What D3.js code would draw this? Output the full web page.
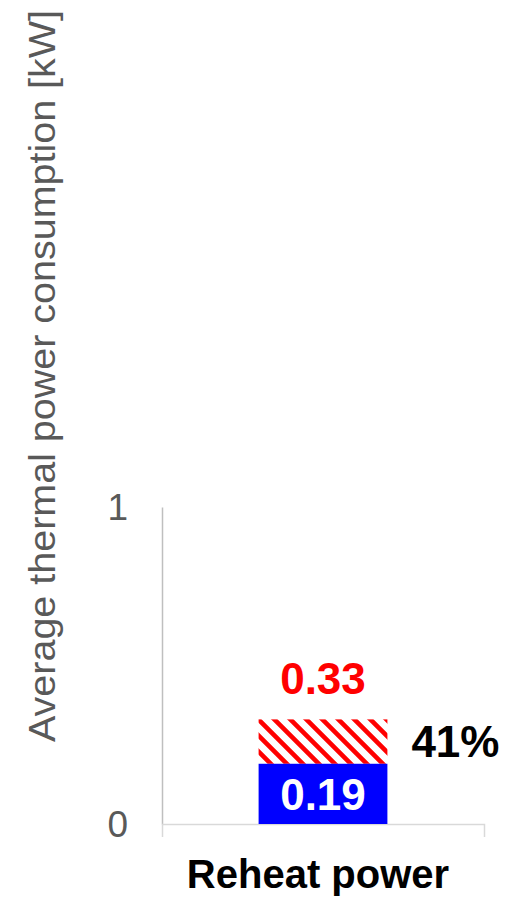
<html lang="en">
<head>
    <title>Reheat power</title>
    <style>
        body {
            margin: 0;
            background: #fff;
        }

        svg text {
            font-family: "Liberation Sans", Arial, sans-serif;
        }
    </style>
</head>
<body>
<div id="chart"></div>
<script src="https://d3js.org/d3.v7.min.js"></script>
<script>
    // chart data
    const categories = ["Reheat power"];
    const baseValues = [0.19];
    const totalValues = [0.33];
    const changeLabels = ["41%"];
    const yTicks = [0, 1];
    const yTitle = "Average thermal power consumption [kW]";

    const width = 524;
    const height = 897;

    const svg = d3.select("#chart").append("svg")
        .attr("width", width)
        .attr("height", height);

    // red diagonal hatch
    const pattern = svg.append("defs").append("pattern")
        .attr("id", "hatch")
        .attr("patternUnits", "userSpaceOnUse")
        .attr("width", 16)
        .attr("height", 16)
        .attr("x", 259)
        .attr("y", 720);
    pattern.append("rect")
        .attr("width", 16)
        .attr("height", 16)
        .attr("fill", "#fff");
    pattern.append("path")
        .attr("d", "M-4,-4L20,20M-4,12L4,20M12,-4L20,4")
        .attr("stroke", "#ff0000")
        .attr("stroke-width", 4.6);

    const y = d3.scaleLinear()
        .domain([0, 1])
        .range([824, 507]);

    const x = d3.scaleBand()
        .domain(categories)
        .range([162, 484])
        .paddingInner(0)
        .paddingOuter(0.75);

    // y axis
    const yAxis = svg.append("g")
        .attr("transform", "translate(162,0)")
        .call(d3.axisLeft(y).tickValues(yTicks).tickFormat(d3.format("d"))
            .tickSizeInner(0).tickSizeOuter(0).tickPadding(34));
    yAxis.select(".domain").attr("stroke", "#bfbfbf").attr("stroke-width", 1.5);
    yAxis.selectAll("text")
        .attr("fill", "#595959")
        .style("font-size", "37px")
        .attr("dy", "0.35em");

    // x axis
    const xAxis = svg.append("g")
        .attr("transform", "translate(0,824)")
        .call(d3.axisBottom(x).tickSizeInner(0).tickSizeOuter(13).tickPadding(0));
    xAxis.select(".domain").attr("stroke", "#d9d9d9").attr("stroke-width", 1.5);
    xAxis.selectAll("text")
        .attr("fill", "#000")
        .attr("y", 64)
        .attr("dy", 0)
        .attr("dx", -5)
        .style("font-size", "40px")
        .style("font-weight", "bold");

    // y title
    svg.append("text")
        .attr("transform", "translate(55,376) rotate(-90)")
        .attr("text-anchor", "middle")
        .attr("fill", "#595959")
        .attr("textLength", 732)
        .attr("lengthAdjust", "spacingAndGlyphs")
        .style("font-size", "36px")
        .text(yTitle);

    // hatched total bar
    svg.selectAll(".total")
        .data(categories)
        .join("rect")
        .attr("class", "total")
        .attr("x", d => x(d))
        .attr("width", x.bandwidth())
        .attr("y", (d, i) => y(totalValues[i]))
        .attr("height", (d, i) => y(baseValues[i]) - y(totalValues[i]))
        .attr("fill", "url(#hatch)");

    // blue base bar
    svg.selectAll(".base")
        .data(categories)
        .join("rect")
        .attr("class", "base")
        .attr("x", d => x(d))
        .attr("width", x.bandwidth())
        .attr("y", (d, i) => y(baseValues[i]))
        .attr("height", (d, i) => y(0) - y(baseValues[i]))
        .attr("fill", "#0000ff");

    // value labels
    svg.selectAll(".base-label")
        .data(categories)
        .join("text")
        .attr("class", "base-label")
        .attr("x", d => x(d) + x.bandwidth() / 2)
        .attr("y", 810)
        .attr("text-anchor", "middle")
        .attr("fill", "#fff")
        .style("font-size", "44px")
        .style("font-weight", "bold")
        .text((d, i) => baseValues[i].toFixed(2));

    svg.selectAll(".total-label")
        .data(categories)
        .join("text")
        .attr("class", "total-label")
        .attr("x", d => x(d) + x.bandwidth() / 2)
        .attr("y", (d, i) => y(totalValues[i]) - 25)
        .attr("text-anchor", "middle")
        .attr("fill", "#ff0000")
        .style("font-size", "44px")
        .style("font-weight", "bold")
        .text((d, i) => totalValues[i].toFixed(2));

    svg.selectAll(".change-label")
        .data(categories)
        .join("text")
        .attr("class", "change-label")
        .attr("x", d => x(d) + x.bandwidth() + 24)
        .attr("y", 757)
        .attr("fill", "#000")
        .style("font-size", "44px")
        .style("font-weight", "bold")
        .text((d, i) => changeLabels[i]);
</script>
</body>
</html>
